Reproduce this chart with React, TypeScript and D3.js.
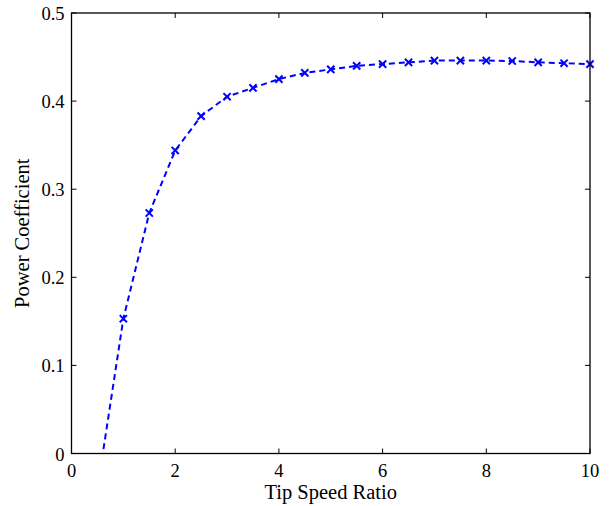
import React from "react";
import * as d3 from "d3";

const tsr = [0.5, 1, 1.5, 2, 2.5, 3, 3.5, 4, 4.5, 5, 5.5, 6, 6.5, 7, 7.5, 8, 8.5, 9, 9.5, 10];
const cp = [-0.04, 0.153, 0.273, 0.344, 0.383, 0.405, 0.415, 0.425, 0.432, 0.436, 0.44, 0.442, 0.444, 0.446, 0.446, 0.446, 0.4455, 0.444, 0.443, 0.442];
const xTicks = [0, 2, 4, 6, 8, 10];
const yTicks = [0, 0.1, 0.2, 0.3, 0.4, 0.5];
const xLabel = "Tip Speed Ratio";
const yLabel = "Power Coefficient";

const W = 612, H = 506;
const L = 71.5, R = 590, T = 13, B = 453.5;

export default function App() {
  const x = d3.scaleLinear().domain([0, 10]).range([L, R]);
  const y = d3.scaleLinear().domain([0, 0.5]).range([B, T]);
  const pts = tsr.map((t, i) => [t, cp[i]] as [number, number]);
  const line = d3.line<[number, number]>().x(d => x(d[0])).y(d => y(d[1]));
  const font = "'Liberation Serif', 'Times New Roman', serif";
  const tl = 5;
  const ms = 3.6;
  return (
    <svg width={W} height={H} style={{ position: "absolute", left: 0, top: 0, background: "#fff" }} fontFamily={font}>
      <rect x={0} y={0} width={W} height={H} fill="#fff" />
      <defs>
        <clipPath id="clip">
          <rect x={L} y={T} width={R - L} height={B - T} />
        </clipPath>
      </defs>
      <g clipPath="url(#clip)">
        <path d={line(pts) || ""} fill="none" stroke="#0000ff" strokeWidth={2} strokeDasharray="6,4" />
      </g>
      {pts.filter(p => p[1] >= 0).map((p, i) => (
        <g key={i} stroke="#0000ff" strokeWidth={2}>
          <line x1={x(p[0]) - ms} y1={y(p[1]) - ms} x2={x(p[0]) + ms} y2={y(p[1]) + ms} />
          <line x1={x(p[0]) - ms} y1={y(p[1]) + ms} x2={x(p[0]) + ms} y2={y(p[1]) - ms} />
        </g>
      ))}
      <rect x={L} y={T} width={R - L} height={B - T} fill="none" stroke="#000" strokeWidth={1.3} />
      {xTicks.map(t => (
        <g key={"x" + t}>
          <line x1={x(t)} x2={x(t)} y1={B} y2={B - tl} stroke="#000" />
          <line x1={x(t)} x2={x(t)} y1={T} y2={T + tl} stroke="#000" />
          <text x={x(t)} y={477} textAnchor="middle" fontSize={18.5}>{t}</text>
        </g>
      ))}
      {yTicks.map(t => (
        <g key={"y" + t}>
          <line x1={L} x2={L + tl} y1={y(t)} y2={y(t)} stroke="#000" />
          <line x1={R} x2={R - tl} y1={y(t)} y2={y(t)} stroke="#000" />
          <text x={64.5} y={y(t) + 7} textAnchor="end" fontSize={18.5}>{t === 0 ? "0" : t.toFixed(1)}</text>
        </g>
      ))}
      <text x={(L + R) / 2} y={499} textAnchor="middle" fontSize={20.5}>{xLabel}</text>
      <text transform={`translate(29,${(T + B) / 2}) rotate(-90)`} textAnchor="middle" fontSize={20.5}>{yLabel}</text>
    </svg>
  );
}
